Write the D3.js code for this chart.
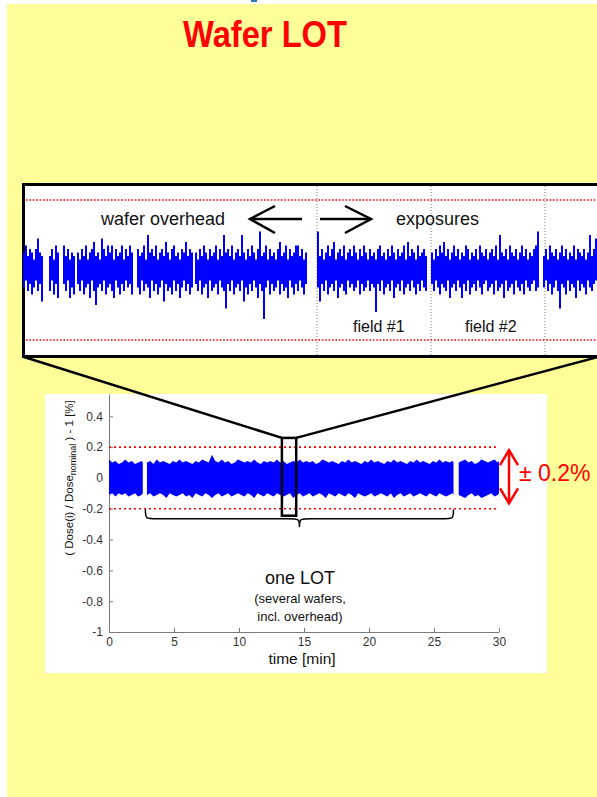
<!DOCTYPE html>
<html><head><meta charset="utf-8">
<script src="https://cdn.jsdelivr.net/npm/d3@7"></script>
<style>
html,body{margin:0;padding:0;background:#fff;}
text{font-family:"Liberation Sans",Arial,Helvetica,sans-serif;}
</style></head>
<body>
<svg id="chart" width="597" height="797"></svg>
<script>
// ---------- data ----------
const title = "Wafer LOT";
// inset (zoomed) trace: per-column max / min in 0.01 %, one column per sample index
const insetSegStart = [0, 13, 20, 27, 57, 86, 147, 204, 260];
const insetHigh = [
  [5,7,4,6,5,3,6,9,5,4],
  [4,6,3,7,5],
  [7,4,6,3,5,4],
  [5,3,6,4,7,3,5,6,8,4,5,3,9,6,4,7,5,7,3,6,4,5,7,3,6,4,7,5],
  [6,4,5,7,3,10,5,6,4,7,3,5,6,4,8,5,3,6,7,4,5,3,6,5,8,4,6,5],
  [5,3,6,4,7,5,3,6,4,5,7,3,6,4,10,5,6,4,7,3,5,6,4,10,5,3,6,4,7,5,3,6,11,4,5,7,3,6,4,5,3,6,8,4,5,7,3,6,4,5,7,7,4,6,3,5],
  [11,4,6,3,5,7,4,6,8,3,5,6,4,7,3,5,6,4,7,5,3,6,4,7,5,3,6,4,5,3,6,7,4,5,3,6,4,7,5,3,6,4,5,7,3,8,4,6,5,3,7,4,5,6,4],
  [5,3,6,4,7,5,8,4,6,3,5,7,4,6,3,5,4,7,6,3,5,4,6,3,7,5,4,6,3,5,6,4,7,3,10,5,4,6,3,7,5,4,6,3,5,7,4,6,3,5,4,6,7,11],
  [4,6,3,7,5,4,6,3,5,7,4,6,3,5,4,7,3,6,5,4,6,3,5,10,4,6,9,5]
];
const insetLow = [
  [-5,-3,-6,-4,-7,-5,-3,-6,-4,-9],
  [-6,-3,-7,-4,-8],
  [-4,-6,-3,-8,-5,-7],
  [-4,-6,-3,-7,-5,-4,-8,-3,-6,-10,-5,-4,-6,-3,-7,-5,-4,-6,-8,-3,-5,-7,-4,-6,-3,-5,-4,-7],
  [-5,-7,-3,-6,-4,-5,-8,-3,-6,-4,-7,-5,-3,-9,-4,-6,-5,-7,-3,-6,-4,-8,-5,-3,-6,-4,-7,-5],
  [-4,-6,-3,-7,-5,-4,-8,-3,-6,-5,-4,-7,-3,-5,-6,-11,-4,-6,-3,-7,-5,-4,-6,-3,-9,-5,-7,-4,-6,-3,-5,-8,-4,-6,-14,-5,-3,-7,-4,-6,-5,-3,-7,-4,-6,-5,-8,-3,-5,-7,-4,-6,-3,-5,-7,-4],
  [-5,-9,-4,-6,-3,-7,-5,-4,-6,-3,-8,-5,-4,-6,-7,-3,-5,-4,-6,-5,-3,-7,-4,-6,-5,-3,-6,-4,-5,-12,-4,-6,-3,-7,-5,-4,-6,-3,-8,-5,-4,-6,-3,-7,-5,-4,-6,-3,-5,-7,-4,-6,-3,-5,-6],
  [-4,-6,-3,-5,-7,-4,-5,-6,-3,-8,-5,-4,-6,-3,-5,-8,-4,-6,-3,-7,-5,-4,-6,-3,-5,-7,-4,-3,-6,-5,-4,-7,-3,-6,-5,-4,-8,-3,-6,-5,-4,-7,-3,-5,-6,-4,-7,-3,-5,-6,-4,-3,-6,-5],
  [-5,-3,-6,-4,-7,-5,-3,-6,-11,-4,-5,-7,-3,-6,-4,-5,-8,-3,-6,-4,-5,-7,-3,-5,-6,-4,-3,-6]
];
const insetFieldLines = [317, 431, 545];
const insetLabels = ["wafer overhead", "exposures", "field #1", "field #2"];

// whole-lot trace: envelope (0.01 %) sampled every 0.25 min in each segment
const bandStep = 0.25;
const bandSegStart = [0, 2.92, 26.9];
const bandSegEnd = [2.6, 26.5, 30];
const bandUpper = [
  [12,10,11,9,10,12,10,11,9,10,11,10],
  [10,11,9,12,10,11,10,9,11,10, 12,10,11,10,9,11,10,12,11,10, 15,11,10,12,10,11,9,10,12,11,
   10,11,10,12,10,9,11,10,11,10, 12,10,11,9,10,11,10,12,10,11, 10,11,9,10,12,11,10,11,10,9,
   11,10,12,10,11,10,9,11,10,12, 10,11,10,9,11,10,12,10,11,10, 9,11,10,12,10,11,10,9,11,10,
   12,10,11,10,11,10],
  [10,11,12,10,11,9,10,12,11,10,11,12,10,11]
];
const bandLower = [
  [-11,-10,-12,-10,-11,-10,-12,-11,-10,-12,-11,-10],
  [-11,-10,-12,-11,-10,-11,-13,-10,-11,-12, -11,-10,-12,-11,-13,-10,-11,-12,-10,-11, -13,-11,-10,-12,-11,-10,-12,-11,-10,-11,
   -12,-10,-11,-13,-10,-11,-12,-10,-11,-12, -10,-11,-12,-11,-10,-13,-11,-10,-12,-11, -10,-12,-11,-10,-11,-13,-10,-11,-12,-10,
   -11,-12,-10,-11,-13,-10,-11,-12,-11,-10, -12,-11,-10,-11,-12,-10,-13,-11,-10,-12, -11,-10,-12,-11,-10,-11,-12,-10,-11,-12,
   -10,-11,-12,-11,-10,-11],
  [-11,-12,-13,-11,-10,-12,-11,-13,-12,-11,-10,-12,-11,-10]
];
const xTicks = [0, 5, 10, 15, 20, 25, 30];
const yTicks = [-1, -0.8, -0.6, -0.4, -0.2, 0, 0.2, 0.4];
const limits = [-0.2, 0.2];
const zoomWindow = [13.3, 14.4];
const zoomValues = [-0.245, 0.26];
const braceSpan = [2.8, 26.5];
const lotLabels = ["one LOT", "(several wafers,", "incl. overhead)"];
const xLabel = "time [min]";
const tolLabel = "\u00B1 0.2%";

// ---------- drawing ----------
const svg = d3.select("#chart");
const font = '"Liberation Sans",Arial,Helvetica,sans-serif';

svg.append("rect").attr("x", 7).attr("y", 4).attr("width", 590).attr("height", 793).attr("fill", "#FFFF99");
svg.append("rect").attr("x", 251).attr("y", 0).attr("width", 6).attr("height", 2).attr("fill", "#2b7bb9");

svg.append("text").attr("x", 265).attr("y", 47).attr("text-anchor", "middle")
  .attr("font-size", 36).attr("font-weight", "bold").attr("fill", "#FF0000")
  .attr("textLength", 164).attr("lengthAdjust", "spacingAndGlyphs").text(title);

// ----- lower chart -----
svg.append("rect").attr("x", 45).attr("y", 394).attr("width", 502).attr("height", 279).attr("fill", "#fff");
const x = d3.scaleLinear().domain([0, 30]).range([109, 499]);
const y = d3.scaleLinear().domain([-1, 0.545]).range([632, 394]);

const gx = svg.append("g").attr("transform", `translate(0,${y(-1)})`)
  .call(d3.axisBottom(x).tickValues(xTicks).tickSize(-4).tickSizeOuter(0).tickPadding(5).tickFormat(d => String(d)));
const gy = svg.append("g").attr("transform", `translate(${x(0)},0)`)
  .call(d3.axisLeft(y).tickValues(yTicks).tickSize(-4).tickSizeOuter(0).tickPadding(6).tickFormat(d => String(d)));
[gx, gy].forEach(g => {
  g.select(".domain").attr("stroke", "#7a7a7a");
  g.selectAll(".tick line").attr("stroke", "#7a7a7a");
  g.selectAll(".tick text").attr("font-size", 12).attr("font-family", font).attr("fill", "#333");
});

limits.forEach(v => {
  svg.append("line").attr("x1", x(0)).attr("x2", x(30)).attr("y1", y(v)).attr("y2", y(v))
    .attr("stroke", "#ff0000").attr("stroke-width", 1.6).attr("stroke-dasharray", "2,3");
});

const area = d3.area().x(d => x(d.t)).y0(d => y(d.lo / 100)).y1(d => y(d.hi / 100));
bandSegStart.forEach((s, k) => {
  const times = d3.range(s, bandSegEnd[k] - 1e-9, bandStep).concat([bandSegEnd[k]]);
  const pts = times.map((t, i) => ({t, hi: bandUpper[k][i], lo: bandLower[k][i]})).filter(d => d.hi !== undefined);
  svg.append("path").datum(pts).attr("d", area).attr("fill", "#0000ff");
});

// brace
const bx1 = x(braceSpan[0]), bx2 = x(braceSpan[1]), bxm = (bx1 + bx2) / 2;
const byE = y(-0.205), byM = y(-0.265), byT = y(-0.32);
svg.append("path").attr("fill", "none").attr("stroke", "#000").attr("stroke-width", 1.5)
  .attr("d", `M${bx1},${byE} C${bx1},${byM} ${bx1},${byM} ${bx1 + 12},${byM} L${bxm - 12},${byM} C${bxm},${byM} ${bxm},${byM} ${bxm},${byT} C${bxm},${byM} ${bxm},${byM} ${bxm + 12},${byM} L${bx2 - 12},${byM} C${bx2},${byM} ${bx2},${byM} ${bx2},${byE}`);

svg.append("text").attr("x", 300).attr("y", 584).attr("text-anchor", "middle").attr("font-size", 18).attr("fill", "#111").text(lotLabels[0]);
svg.append("text").attr("x", 300).attr("y", 603).attr("text-anchor", "middle").attr("font-size", 13).attr("fill", "#111").text(lotLabels[1]);
svg.append("text").attr("x", 300).attr("y", 621).attr("text-anchor", "middle").attr("font-size", 13).attr("fill", "#111").text(lotLabels[2]);

svg.append("text").attr("x", 302).attr("y", 664).attr("text-anchor", "middle").attr("font-size", 15.5).attr("fill", "#111").text(xLabel);

const yl = svg.append("text").attr("transform", `translate(73,${y(0)}) rotate(-90)`).attr("text-anchor", "middle")
  .attr("font-size", 11.5).attr("fill", "#111");
yl.append("tspan").text("( Dose(i) / Dose");
yl.append("tspan").attr("font-size", 9).attr("dy", 3).text("nominal");
yl.append("tspan").attr("dy", -3).text(" ) - 1 [%]");

// tolerance arrow
const ax = 509, ayT = y(0.18), ayB = y(-0.165);
svg.append("line").attr("x1", ax).attr("x2", ax).attr("y1", ayT).attr("y2", ayB).attr("stroke", "#ff0000").attr("stroke-width", 2.5);
svg.append("polyline").attr("points", `${ax - 9},${ayT + 15} ${ax},${ayT} ${ax + 9},${ayT + 15}`).attr("fill", "none").attr("stroke", "#ff0000").attr("stroke-width", 2.5);
svg.append("polyline").attr("points", `${ax - 9},${ayB - 15} ${ax},${ayB} ${ax + 9},${ayB - 15}`).attr("fill", "none").attr("stroke", "#ff0000").attr("stroke-width", 2.5);
svg.append("text").attr("x", 519).attr("y", 481).attr("font-size", 23).attr("fill", "#ff0000").text(tolLabel);

// ----- inset -----
const ix = d3.scaleLinear().domain([0, 287]).range([24, 598]);
const iy = d3.scaleLinear().domain([-0.2, 0.2]).range([340, 200]);
svg.append("rect").attr("x", 23.5).attr("y", 184.5).attr("width", 620).attr("height", 172)
  .attr("fill", "#fff").attr("stroke", "#000").attr("stroke-width", 3);
insetFieldLines.forEach(px => {
  svg.append("line").attr("x1", px).attr("x2", px).attr("y1", 186).attr("y2", 355)
    .attr("stroke", "#777").attr("stroke-width", 1).attr("stroke-dasharray", "1,2");
});
limits.forEach(v => {
  svg.append("line").attr("x1", 26).attr("x2", 597).attr("y1", iy(v)).attr("y2", iy(v))
    .attr("stroke", "#ff0000").attr("stroke-width", 1.6).attr("stroke-dasharray", "1.6,1.8");
});
insetSegStart.forEach((s, k) => {
  const cols = insetHigh[k].map((hi, i) => ({i: s + i, hi, lo: insetLow[k][i]}));
  svg.append("g").selectAll("rect").data(cols).join("rect")
    .attr("x", d => ix(d.i) - 1).attr("width", 2)
    .attr("y", d => iy(d.hi / 100)).attr("height", d => iy(d.lo / 100) - iy(d.hi / 100))
    .attr("fill", "#0000ff");
});
svg.append("text").attr("x", 101).attr("y", 225).attr("font-size", 18).attr("fill", "#111").text(insetLabels[0]);
svg.append("text").attr("x", 396).attr("y", 225).attr("font-size", 18).attr("fill", "#111").text(insetLabels[1]);
svg.append("text").attr("x", 353).attr("y", 332).attr("font-size", 16).attr("fill", "#111").text(insetLabels[2]);
svg.append("text").attr("x", 465).attr("y", 332).attr("font-size", 16).attr("fill", "#111").text(insetLabels[3]);
// arrows
const arr = svg.append("g").attr("fill", "none").attr("stroke", "#000").attr("stroke-width", 2.5);
arr.append("polyline").attr("points", "275,206 250,219 275,233");
arr.append("line").attr("x1", 250).attr("x2", 302).attr("y1", 219).attr("y2", 219);
arr.append("polyline").attr("points", "345,206 371,219 345,233");
arr.append("line").attr("x1", 320).attr("x2", 371).attr("y1", 219).attr("y2", 219);

// zoom box and connectors
svg.append("rect").attr("x", x(zoomWindow[0])).attr("y", y(zoomValues[1]))
  .attr("width", x(zoomWindow[1]) - x(zoomWindow[0])).attr("height", y(zoomValues[0]) - y(zoomValues[1]))
  .attr("fill", "none").attr("stroke", "#000").attr("stroke-width", 2.5);
svg.append("line").attr("x1", 24).attr("y1", 357).attr("x2", x(zoomWindow[0])).attr("y2", y(zoomValues[1]))
  .attr("stroke", "#000").attr("stroke-width", 2.5);
svg.append("line").attr("x1", 620).attr("y1", 351).attr("x2", x(zoomWindow[1])).attr("y2", y(zoomValues[1]))
  .attr("stroke", "#000").attr("stroke-width", 2.5);
</script>
</body></html>
